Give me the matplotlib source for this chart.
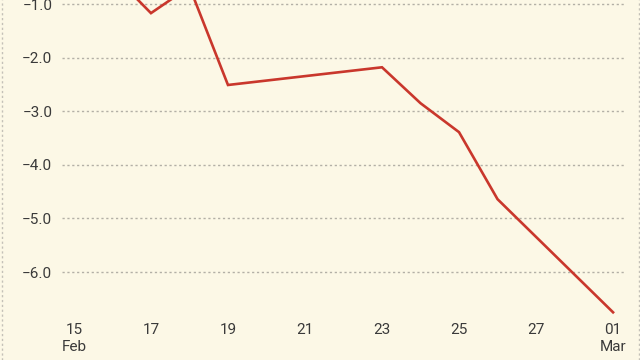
import matplotlib
matplotlib.use("Agg")
import matplotlib.pyplot as plt
from matplotlib.lines import Line2D
import numpy as np
import datetime as dt

dates = ["2023-02-15", "2023-02-16", "2023-02-17", "2023-02-18", "2023-02-19",
         "2023-02-23", "2023-02-24", "2023-02-25", "2023-02-26", "2023-03-01"]
values = [-0.30, -0.44, -1.17, -0.68, -2.51, -2.18, -2.85, -3.39, -4.64, -6.75]
xtick_dates = ["2023-02-15", "2023-02-17", "2023-02-19", "2023-02-21",
               "2023-02-23", "2023-02-25", "2023-02-27", "2023-03-01"]
xtick_labels = ["15\nFeb", "17", "19", "21", "23", "25", "27", "01\nMar"]
yticks = [-1.0, -2.0, -3.0, -4.0, -5.0, -6.0]

bg = "#fcf8e6"
red = "#c9372c"
txt = "#3a3a3a"

base = dt.date(2023, 2, 15)
def day(s):
    return (dt.date.fromisoformat(s) - base).days

x = [day(d) for d in dates]

fig = plt.figure(figsize=(6.4, 3.6), dpi=100, facecolor=bg)
W, H = 640, 360
ax = fig.add_axes([62 / W, 1 - 315 / H, (625 - 62) / W, 315 / H])
ax.set_facecolor(bg)

for y in yticks:
    ax.axhline(y, color="#b3b0a6", lw=1.0, dashes=(1.6, 1.9), zorder=1)

ax.plot(x, values, color=red, lw=1.9, solid_joinstyle="miter", zorder=3)

ax.set_xlim(-0.31, 14.31)
ax.set_ylim(-6.80, -0.925)

ax.set_yticks(yticks)
ax.set_yticklabels([f"{v:.1f}".replace("-", "\u2212") for v in yticks])
ax.set_xticks([day(d) for d in xtick_dates])
ax.set_xticklabels(xtick_labels, linespacing=1.25)

ax.tick_params(axis="both", length=0, labelsize=11, colors=txt)
ax.tick_params(axis="y", pad=7)
ax.tick_params(axis="x", pad=6)
for lab in ax.get_xticklabels() + ax.get_yticklabels():
    lab.set_fontfamily("Roboto")
for s in ax.spines.values():
    s.set_visible(False)

for xf in (1.5 / W, 1 - 1.5 / W):
    fig.add_artist(Line2D([xf, xf], [0, 1], transform=fig.transFigure,
                          color="#c4c1b8", lw=1.0, dashes=(1.6, 1.9)))

fig.savefig("out.png", dpi=100, facecolor=bg)
